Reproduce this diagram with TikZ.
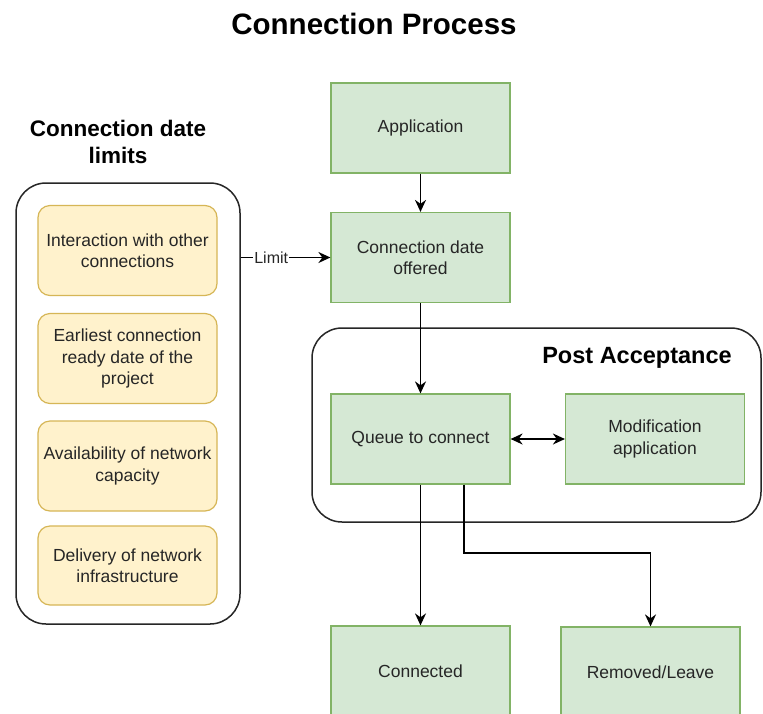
\documentclass[tikz,border=0pt]{standalone}
\usepackage{fontspec}
\setmainfont{Liberation Sans}
\usetikzlibrary{arrows.meta}
\definecolor{stagefill}{HTML}{D5E8D4}
\definecolor{stageline}{HTML}{82B366}
\definecolor{limitfill}{HTML}{FFF2CC}
\definecolor{limitline}{HTML}{D6B656}
\definecolor{textgray}{HTML}{262626}

\begin{document}
\begin{tikzpicture}[x=1pt,y=-1pt,
        stage/.style={draw=stageline,fill=stagefill,line width=1.2pt,minimum width=179pt,minimum height=90pt,
            inner sep=0pt,align=center,text=textgray,font=\fontsize{17.5}{21.5}\selectfont},
        limitbox/.style={draw=limitline,fill=limitfill,line width=1.2pt,rounded corners=12pt,minimum width=179pt,
            inner sep=0pt,align=center,text=textgray,font=\fontsize{17.5}{21.5}\selectfont},
        group/.style={draw=black!85,line width=1.5pt,rounded corners=30pt,inner sep=0pt},
        heading/.style={align=center,font=\bfseries\fontsize{22.5}{27}\selectfont},
        arr/.style={-{Stealth[length=12pt,width=11pt]},line width=1.6pt}]
                \clip (0,0) rectangle (763,713);
                \fill[white] (0,0) rectangle (763,713);

                \node[font=\bfseries\fontsize{29.5}{34}\selectfont] (title) at (374,24) {Connection Process};

                \node[group,minimum width=224pt,minimum height=441pt] (limits) at (128,403.5) {};
                \node[group,minimum width=449pt,minimum height=194pt] (post) at (536.5,425) {};
                \node[heading] (limitshead) at (118,142) {Connection date\\limits};
                \node[heading,font=\bfseries\fontsize{23.5}{28}\selectfont] (posthead) at (637,358) {Post Acceptance};

                \node[limitbox,minimum height=90pt] (interaction) at (127.5,250.5) {Interaction with other\\connections};
                \node[limitbox,minimum height=90pt] (earliest) at (127.5,358.5) {Earliest connection\\ready date of the\\project};
                \node[limitbox,minimum height=90pt] (capacity) at (127.5,466) {Availability of network\\capacity};
                \node[limitbox,minimum height=79pt] (delivery) at (127.5,565.5) {Delivery of network\\infrastructure};

                \node[stage] (application) at (420.5,128) {Application};
                \node[stage] (offered) at (420.5,257.5) {Connection date\\offered};
                \node[stage] (queue) at (420.5,439) {Queue to connect};
                \node[stage] (modification) at (655,439) {Modification\\application};
                \node[stage] (connected) at (420.5,671) {Connected};
                \node[stage] (removed) at (650.5,672) {Removed/Leave};

                \coordinate (bend) at (464,553);

                \draw[arr] (application) -- (offered);
                \draw[arr] (limits.east |- offered.west) -- node[pos=0.34,fill=white,inner sep=1pt,text=textgray,
                    font=\fontsize{16}{19}\selectfont] {Limit} (offered.west);
                \draw[arr] (offered) -- (queue);
                \draw[arr,{Stealth[length=12pt,width=11pt]}-{Stealth[length=12pt,width=11pt]}] (queue) -- (modification);
                \draw[arr] (queue) -- (connected);
                \draw[arr] (queue.south -| bend) -- (bend) -| (removed.north);
            \end{tikzpicture}
\end{document}
